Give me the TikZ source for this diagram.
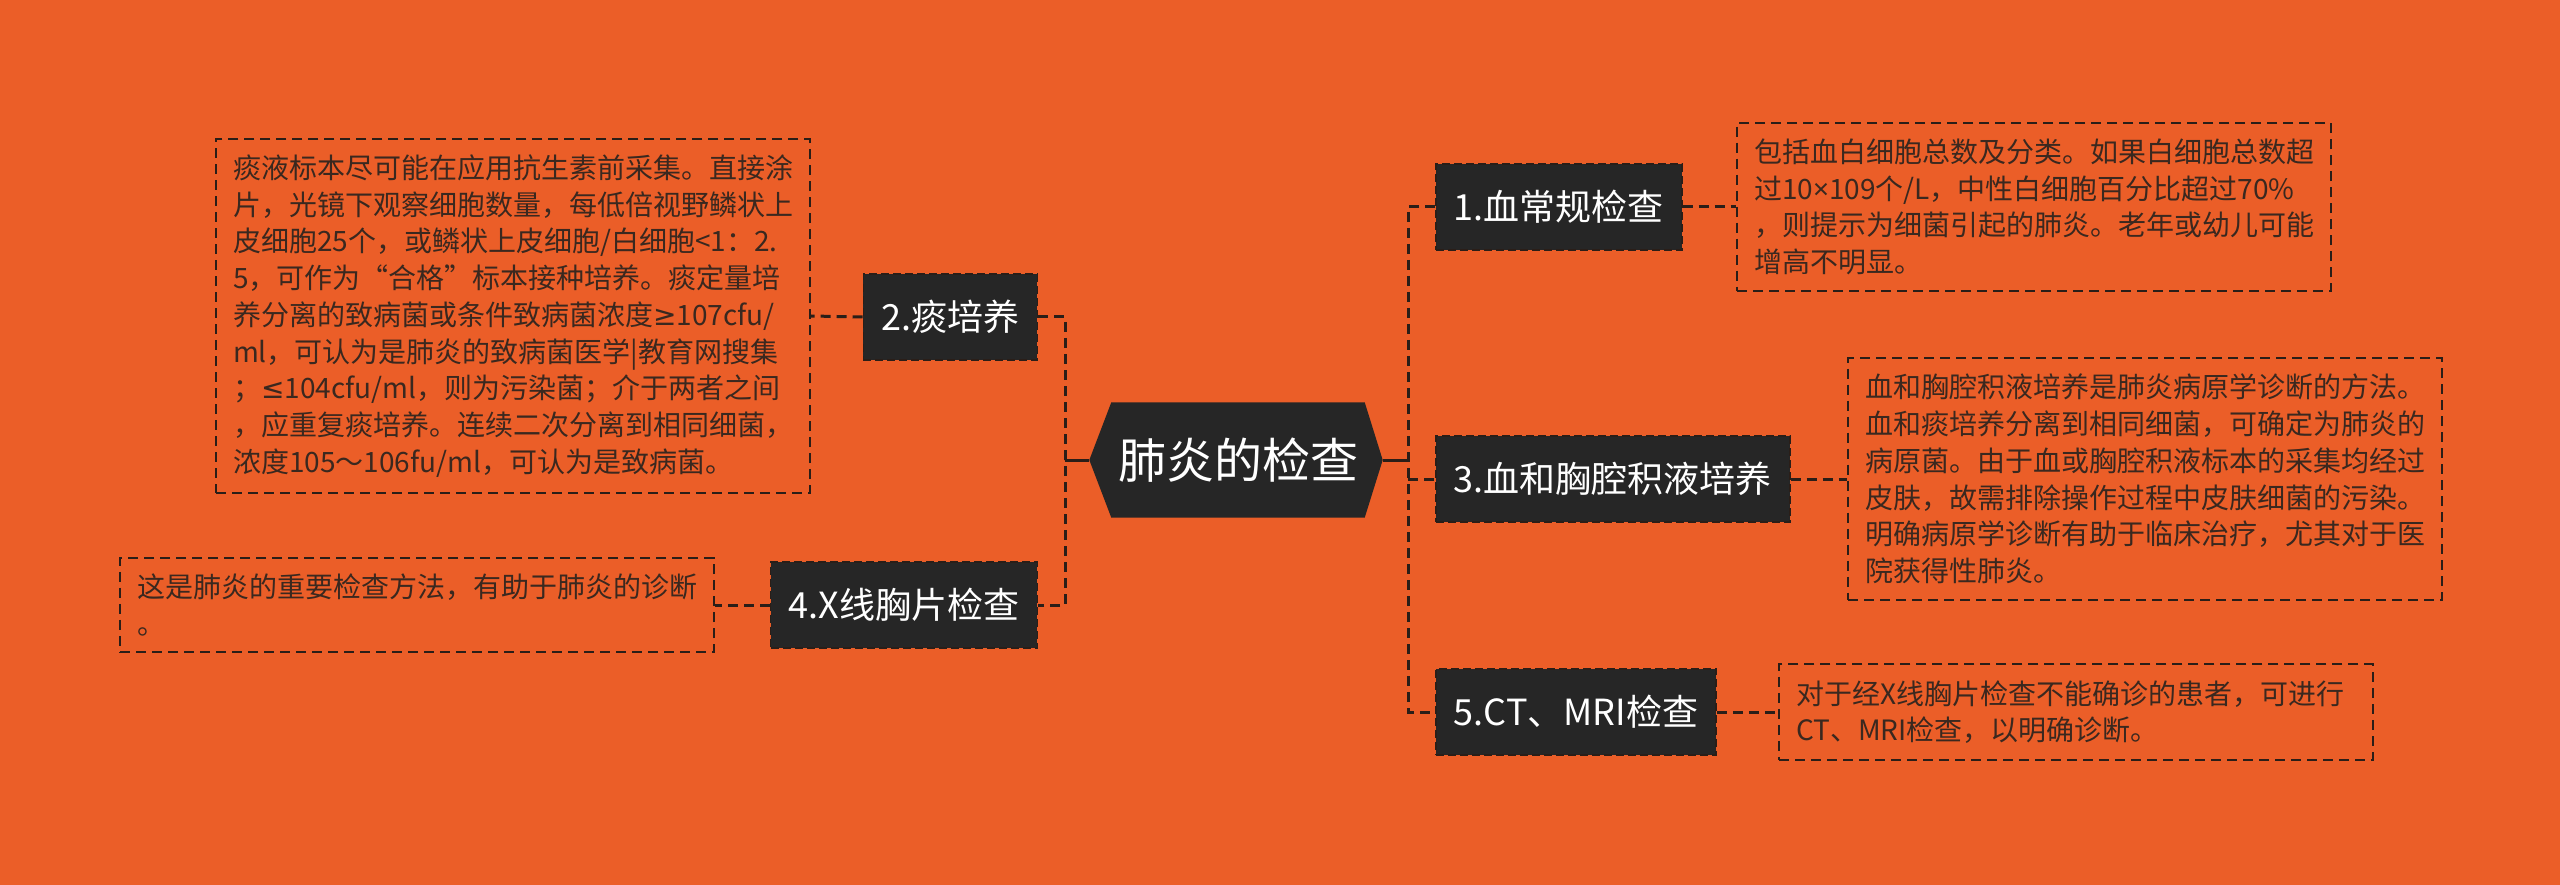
\documentclass[tikz,border=0pt]{standalone}
\usepackage{fontspec}
\setmainfont{Noto Sans CJK SC}
\newfontfamily\latf{Noto Sans}
\newfontfamily\symf{DejaVu Sans}
\usetikzlibrary{backgrounds}
\definecolor{bg}{HTML}{EB5E28}
\definecolor{dk}{HTML}{262626}
\definecolor{tx}{HTML}{3A281F}
\definecolor{ln}{HTML}{2A1E18}
\begin{document}
\begin{tikzpicture}[x=1pt,y=-1pt,
  topic/.style={fill=dk, draw=ln, dash pattern=on 8pt off 4pt, line width=1.5pt, text=white,
    font=\fontsize{36}{40}\selectfont, inner xsep=18pt, minimum height=86pt},
  desc/.style={draw=ln, dash pattern=on 10pt off 6pt, line width=2pt, text=tx,
    font=\fontsize{28}{36.7}\selectfont, text width=560pt, inner xsep=17pt, inner ysep=16pt, align=left},
  link/.style={draw=ln, line width=3pt, dash pattern=on 10pt off 6pt},
  stub/.style={draw=ln, line width=3pt}
]
\useasboundingbox (0,0) rectangle (2560,885);

\node[text=white, font=\fontsize{48}{52}\selectfont, minimum width=253pt, minimum height=115pt, inner sep=0pt] (c) at (1238,460) {肺炎的检查};
\begin{pgfonlayer}{background}
\fill[bg] (0,0) rectangle (2560,885);
\fill[dk] ([xshift=-22pt]c.west) -- (c.north west) -- (c.north east) -- ([xshift=18pt]c.east) -- (c.south east) -- (c.south west) -- cycle;
\end{pgfonlayer}

\node[topic, anchor=west] (n1) at (1435,207) {1.血常规检查};
\node[topic, anchor=west] (n3) at (1435,479) {3.血和胸腔积液培养};
\node[topic, anchor=west] (n5) at (1435,712) {5.CT、MRI检查};
\node[topic, anchor=east] (n2) at (1038,317) {2.痰培养};
\node[topic, anchor=east] (n4) at (1038,605) {4.X线胸片检查};

\node[desc, anchor=west] (d1) at (1736,207) {包括血白细胞总数及分类。如果白细胞总数超\\过10{\latf ×}109个/L，中性白细胞百分比超过70\%\\，则提示为细菌引起的肺炎。老年或幼儿可能\\增高不明显。};
\node[desc, anchor=west] (d3) at (1847,479) {血和胸腔积液培养是肺炎病原学诊断的方法。\\血和痰培养分离到相同细菌，可确定为肺炎的\\病原菌。由于血或胸腔积液标本的采集均经过\\皮肤，故需排除操作过程中皮肤细菌的污染。\\明确病原学诊断有助于临床治疗，尤其对于医\\院获得性肺炎。};
\node[desc, anchor=west] (d5) at (1778,712) {对于经X线胸片检查不能确诊的患者，可进行\\CT、MRI检查，以明确诊断。};
\node[desc, anchor=east] (d2) at (811,316) {痰液标本尽可能在应用抗生素前采集。直接涂\\片，光镜下观察细胞数量，每低倍视野鳞状上\\皮细胞25个，或鳞状上皮细胞/白细胞<1：2.\\5，可作为“合格”标本接种培养。痰定量培\\养分离的致病菌或条件致病菌浓度{\symf ≥}107cfu/\\ml，可认为是肺炎的致病菌医学|教育网搜集\\；{\symf ≤}104cfu/ml，则为污染菌；介于两者之间\\，应重复痰培养。连续二次分离到相同细菌，\\浓度105～106fu/ml，可认为是致病菌。};
\node[desc, anchor=east] (d4) at (715,605) {这是肺炎的重要检查方法，有助于肺炎的诊断\\。};

\coordinate (rs) at (1408,460);
\coordinate (ls) at (1065,460);
\draw[stub] ([xshift=18pt]c.east) -- (rs);
\draw[stub] ([xshift=-22pt]c.west) -- (ls);
\draw[link] (n1.west) -| (rs) |- (n5.west);
\draw[link] (rs |- n3.west) -- (n3.west);
\draw[link] (n2.east) -| (ls) |- (n4.east);

\draw[link] (n1.east) -- (d1.west);
\draw[link] (n3.east) -- (d3.west);
\draw[link] (n5.east) -- (d5.west);
\draw[link] (n2.west) -- (d2.east);
\draw[link] (n4.west) -- (d4.east);
\end{tikzpicture}
\end{document}
